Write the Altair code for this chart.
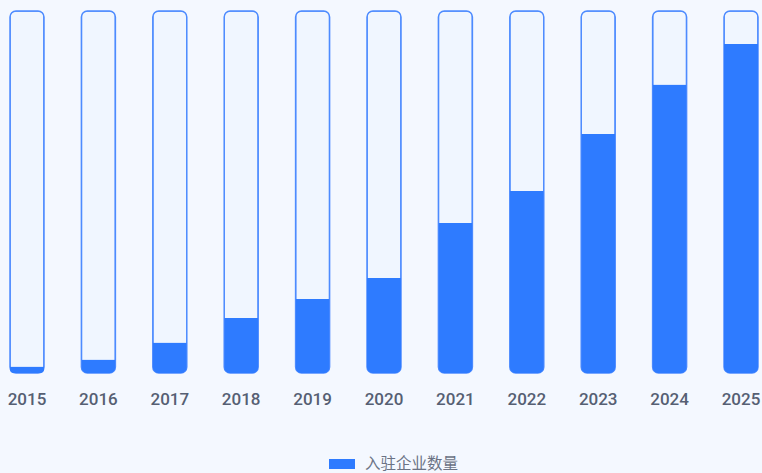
import altair as alt
import pandas as pd

years = ["2015", "2016", "2017", "2018", "2019", "2020", "2021", "2022", "2023", "2024", "2025"]
counts = [20, 41, 93, 167, 225, 289, 456, 553, 726, 877, 1000]
series_name = "入驻企业数量"
axis_max = 1100

df = pd.DataFrame({"year": years, "count": counts, "series": [series_name] * len(years), "full": [axis_max] * len(years)})

x = alt.X("year:N", title=None, sort=years,
          scale=alt.Scale(range=[10, 758], paddingInner=0.524, paddingOuter=0),
          axis=alt.Axis(domain=False, ticks=False, labelAngle=0, labelFontSize=17,
                        labelColor="#565f73", labelFont="Roboto", labelFontWeight=500,
                        labelPadding=18))

bg = alt.Chart(df).mark_bar(
    fill="#f0f6ff", stroke="#4d8bff", strokeWidth=1.5, cornerRadius=6
).encode(
    x=x,
    y=alt.Y("full:Q", scale=alt.Scale(domain=[0, axis_max], nice=False), axis=None),
)

fg = alt.Chart(df).mark_bar(
    cornerRadiusBottomLeft=6, cornerRadiusBottomRight=6
).encode(
    x=x,
    y=alt.Y("count:Q", scale=alt.Scale(domain=[0, axis_max], nice=False), axis=None),
    color=alt.Color("series:N", scale=alt.Scale(range=["#2e7bff"]),
                    legend=alt.Legend(title=None, orient="none", legendX=332, legendY=443,
                                      symbolType="M-1.3,-0.5H1.3V0.5H-1.3Z", symbolSize=400,
                                      symbolStrokeWidth=0, labelFontSize=15.5, labelColor="#6b7385",
                                      labelFont="Noto Sans CJK SC", labelOffset=13)),
)

chart = alt.layer(bg, fg).properties(
    width=762, height=362,
    padding={"left": 0, "top": 11, "right": 0, "bottom": 100},
    autosize=alt.AutoSizeParams(type="none"),
    background="#f4f8ff",
).configure_view(stroke=None)

chart.save("out.html", embed_options={"renderer": "svg", "actions": False})
